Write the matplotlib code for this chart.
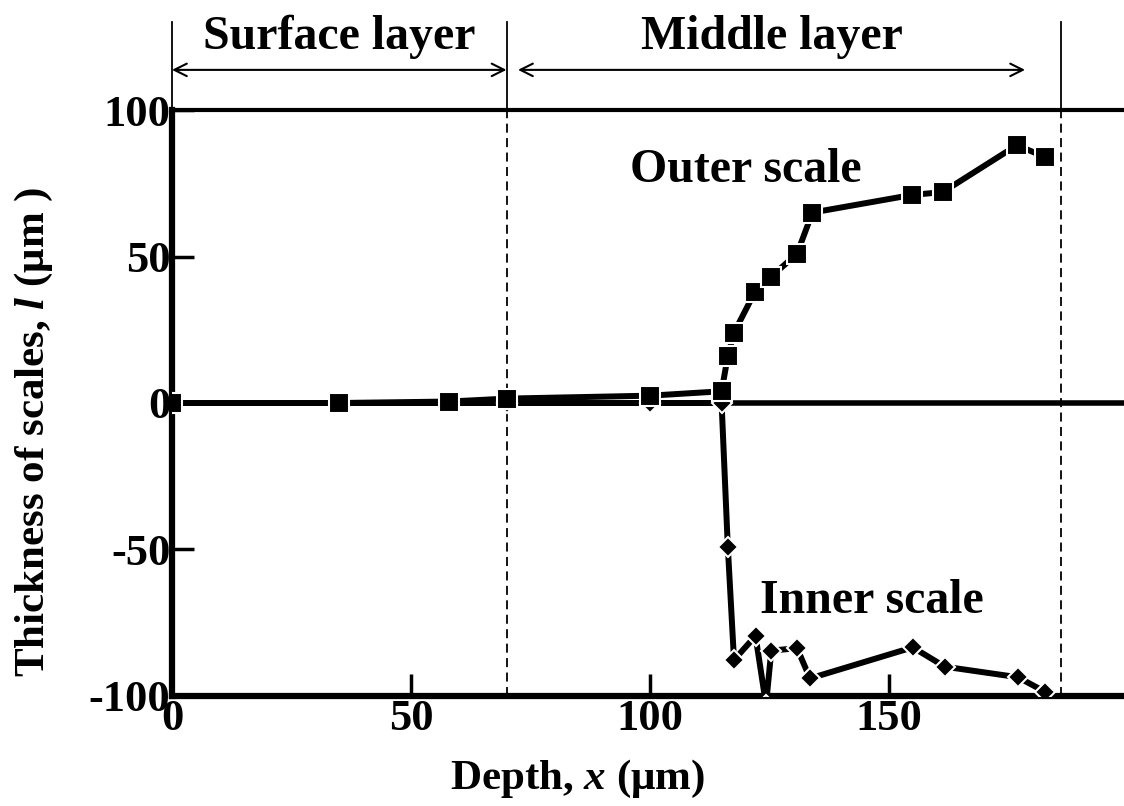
import matplotlib
matplotlib.use('Agg')
import matplotlib.pyplot as plt

plt.rcParams['font.family'] = 'Liberation Serif'
plt.rcParams['font.weight'] = 'bold'
plt.rcParams['mathtext.fontset'] = 'custom'
plt.rcParams['mathtext.it'] = 'Liberation Serif:bold:italic'
plt.rcParams['mathtext.rm'] = 'Liberation Serif:bold'
plt.rcParams['axes.unicode_minus'] = False

# Outer scale thickness vs depth
outer_x = [0, 35, 58, 70, 100, 115, 116.3, 117.6, 122, 125.3, 130.8, 134, 154.8, 161.3, 176.8, 182.6]
outer_y = [0, 0, 0.5, 1.5, 2.5, 4, 16, 24, 38, 43, 51, 65, 71, 72, 88, 84]

# Inner scale thickness vs depth
inner_x = [0, 35, 58, 70, 100, 115, 116.3, 117.6, 122.1, 124.3, 125.4, 130.8, 133.5, 155, 161.7, 177, 182.6]
inner_y = [0, 0, 0, 0, 0, 0, -49, -87.7, -79.5, -103, -84.5, -83.7, -94, -83.4, -90, -93.6, -98.5]

# layer boundaries (um)
layer_edges = [0, 70, 186]
layer_names = ['Surface layer', 'Middle layer']
arrow_spans = [(0, 70), (72.4, 178.5)]

fig = plt.figure(figsize=(11.24, 8.06), dpi=100)
ax = fig.add_axes([0.153, 0.1365, 0.847, 0.727])

ax.axhline(0, color='black', lw=4, zorder=1)

ax.plot(inner_x, inner_y, '-D', color='black', lw=4.3, ms=10,
        mec='white', mew=1.5, zorder=3)
ax.plot(outer_x, outer_y, '-s', color='black', lw=4.3, ms=15,
        mec='white', mew=1.5, zorder=4)

ax.set_xlim(0, 199.2)
ax.set_ylim(-100, 100)

# layer boundaries: dashed inside, thin solid above the frame
for xe in layer_edges[1:]:
    ax.plot([xe, xe], [-100, 100], color='black', lw=1.3, ls=(0, (5, 3)), zorder=2)
for xe in layer_edges:
    ax.plot([xe, xe], [100, 130], color='black', lw=1.3, clip_on=False)

for (x0, x1), name in zip(arrow_spans, layer_names):
    ax.annotate('', xy=(x0, 113.7), xytext=(x1, 113.7), annotation_clip=False,
                arrowprops=dict(arrowstyle='<->,head_length=0.9,head_width=0.45',
                                color='black', lw=1.5, shrinkA=0, shrinkB=0))
    ax.text((x0 + x1) / 2, 125, name, ha='center', va='center', fontsize=34.5,
            fontweight='bold')

ax.text(95.8, 79.5, 'Outer scale', fontsize=34.5, fontweight='bold', va='center')
ax.text(123, -67.5, 'Inner scale', fontsize=34.5, fontweight='bold', va='center')

# frame
ax.spines['right'].set_visible(False)
ax.spines['left'].set_linewidth(4.5)
ax.spines['top'].set_linewidth(3)
ax.spines['bottom'].set_linewidth(4.5)

ax.set_xticks([0, 50, 100, 150])
ax.set_yticks([-100, -50, 0, 50, 100])
ax.tick_params(direction='in', length=16, width=2.5, labelsize=32, pad=2)
ax.tick_params(axis='y', pad=1)
ax.tick_params(top=False, right=False)

ax.set_xlabel('Depth, $x$ (μm)', fontsize=31, fontweight='bold')
ax.set_ylabel('Thickness of scales, $l$ (μm )', fontsize=31, fontweight='bold')
ax.xaxis.set_label_coords(0.426, -0.105)
ax.yaxis.set_label_coords(-0.123, 0.45)

plt.savefig('out.png', dpi=100)
